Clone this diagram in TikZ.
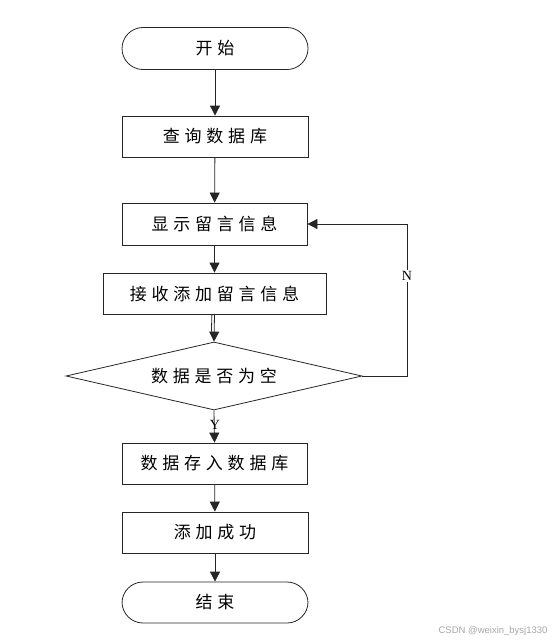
\documentclass[tikz,border=0pt]{standalone}
\usepackage{fontspec}
\newfontfamily\cjk{Noto Sans CJK SC}[LetterSpace=28]
\newfontfamily\latinserif{Liberation Serif}
\newfontfamily\latinsans{Liberation Sans}
\usetikzlibrary{arrows.meta,shapes.geometric}
\tikzset{
  line/.style={draw=black!85,line width=0.8pt},
  arr/.style={line,-{Triangle[length=10pt,width=10pt]}},
  box/.style={line,rectangle,minimum height=41pt,inner sep=0pt,font=\cjk\fontsize{17}{17}\selectfont,text=black},
  term/.style={box,rounded corners=21pt,minimum width=186pt,minimum height=42pt},
  dia/.style={line,diamond,aspect=4.35,minimum width=296pt,minimum height=68pt,inner sep=0pt,font=\cjk\fontsize{17}{17}\selectfont,text=black},
  lab/.style={font=\latinserif\fontsize{14}{14}\selectfont,inner sep=1pt}
}
\begin{document}
\begin{tikzpicture}[x=1pt,y=-1pt]
\useasboundingbox (0,0) rectangle (554,642);
\node[term] (start) at (215,48.5) {开始};
\node[box,minimum width=186pt] (query) at (215,136.5) {查询数据库};
\node[box,minimum width=185pt,minimum height=42pt] (show) at (214.5,224) {显示留言信息};
\node[box,minimum width=223pt] (recv) at (214.5,293.5) {接收添加留言信息};
\node[dia] (dec) at (214,376) {数据是否为空};
\node[box,minimum width=185pt] (store) at (214.5,463.5) {数据存入数据库};
\node[box,minimum width=186pt] (ok) at (215,532.5) {添加成功};
\node[term,minimum height=41pt] (end) at (215,602.5) {结束};
\coordinate (c1) at (407,376);
\draw[arr] (start) -- (query);
\draw[arr] (query) -- (show);
\draw[arr] (show) -- (recv);
\draw[arr] (recv.south) -- (dec.north);
\draw[line] ([xshift=-2.6pt]recv.south) -- ([xshift=-2.6pt,yshift=10pt]dec.north);
\draw[arr] (dec.south) -- (store.north);
\node[lab] (ylab) at (215,425) {Y};
\draw[arr] (store) -- (ok);
\draw[arr] (ok) -- (end);
\draw[arr] (dec.east) -- (c1) |- (show.east);
\node[lab,fill=white] (nlab) at (407,276) {N};
\node[font=\latinsans\fontsize{9.5}{9.5}\selectfont,text=black!35,anchor=east] (wm) at (551,631) {CSDN @weixin\_bysj1330};
\end{tikzpicture}
\end{document}
